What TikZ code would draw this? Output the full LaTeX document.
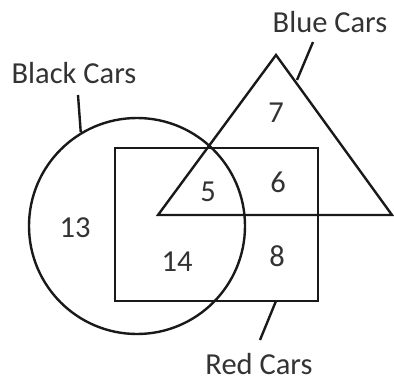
\documentclass[tikz,border=0pt]{standalone}
\usepackage{fontspec}
\setmainfont{Carlito}
\begin{document}
\begin{tikzpicture}[x=1pt,y=-1pt,
  shapeline/.style={draw=black!90, line width=2.4pt},
  lbl/.style={font=\fontsize{30.5}{32}\selectfont, text=black!80, inner sep=0pt},
  num/.style={font=\fontsize{30.5}{32}\selectfont, text=black!80, inner sep=0pt},
  leader/.style={draw=black!90, line width=2.4pt}]
\useasboundingbox (0,0) rectangle (394,383);
% shapes
\node[shapeline, circle, minimum size=216pt, inner sep=0pt] (black) at (137,226) {};
\node[shapeline, rectangle, minimum width=203pt, minimum height=153pt, inner sep=0pt] (red) at (216.5,224.5) {};
\coordinate (tA) at (276,55);
\coordinate (tL) at (158,215);
\coordinate (tR) at (392,215);
\draw[shapeline, line join=miter] (tA) -- (tL) -- (tR) -- cycle;
% labels
\node[lbl] (lblack) at (74,73) {Black Cars};
\node[lbl] (lblue) at (330,22) {Blue Cars};
\node[lbl] (lred) at (259,364) {Red Cars};
% leader lines
\coordinate (bk1) at (78,95);
\coordinate (bu1) at (313,42);
\coordinate (bu2) at (297,80);
\coordinate (rd1) at (260,340);
\coordinate (rd2) at (276,301);
\draw[leader] (bk1) -- (black.121);
\draw[leader] (bu1) -- (bu2);
\draw[leader] (rd1) -- (rd2);
% numbers
\node[num] (n7) at (276,113) {7};
\node[num] (n6) at (278,182) {6};
\node[num] (n5) at (208,192) {5};
\node[num] (n13) at (75,228) {13};
\node[num] (n14) at (177,262) {14};
\node[num] (n8) at (277,256) {8};
\end{tikzpicture}
\end{document}
